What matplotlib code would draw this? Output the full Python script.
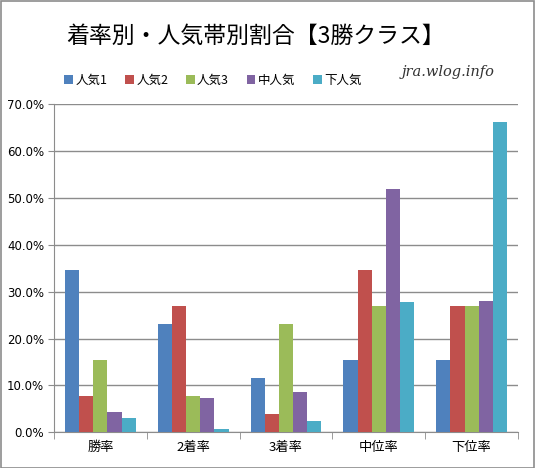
import matplotlib
matplotlib.use("Agg")
import matplotlib.pyplot as plt
from matplotlib.ticker import PercentFormatter
from matplotlib.patches import Rectangle
import numpy as np

plt.rcParams['font.family'] = ['Noto Sans CJK JP', 'DejaVu Sans']

categories = ['勝率', '2着率', '3着率', '中位率', '下位率']
series_names = ['人気1', '人気2', '人気3', '中人気', '下人気']
values = {
    '人気1': [34.6, 23.1, 11.5, 15.4, 15.4],
    '人気2': [7.7, 26.9, 3.8, 34.6, 26.9],
    '人気3': [15.4, 7.7, 23.1, 26.9, 26.9],
    '中人気': [4.3, 7.3, 8.6, 51.9, 28.0],
    '下人気': [3.0, 0.6, 2.4, 27.8, 66.2],
}
colors = ['#4F81BD', '#C0504D', '#9BBB59', '#8064A2', '#4BACC6']
yticks = [0, 10, 20, 30, 40, 50, 60, 70]

W, H = 535, 468
fig = plt.figure(figsize=(W / 100, H / 100), dpi=100)
fig.patches.append(Rectangle((0.5 / W, 0.5 / H), 1 - 1.5 / W, 1 - 1.5 / H,
                             transform=fig.transFigure, fill=False,
                             edgecolor='#8c8c8c', linewidth=1.2))

ax = fig.add_axes([54 / W, (H - 432.3) / H, 464 / W, (432.3 - 104.3) / H])

x = np.arange(len(categories))
bw = 0.153
for i, (name, col) in enumerate(zip(series_names, colors)):
    ax.bar(x + (i - 2) * bw, values[name], width=bw, color=col, label=name,
           zorder=3)

ax.set_xlim(-0.5, len(categories) - 0.5)
ax.set_ylim(0, 70)
ax.set_yticks(yticks)
ax.yaxis.set_major_formatter(PercentFormatter(decimals=1))
ax.grid(axis='y', color='#8c8c8c', linewidth=1, zorder=0)
ax.set_xticks(x)
ax.set_xticklabels(categories, fontsize=9.5)
ax.set_xticks(np.arange(-0.5, len(categories)), minor=True)
ax.tick_params(axis='x', which='major', length=0, pad=6)
ax.tick_params(axis='x', which='minor', length=5, color='#8c8c8c', direction='out')
ax.tick_params(axis='y', length=4, color='#8c8c8c', labelsize=8.5, pad=3)
for lab in ax.get_yticklabels():
    lab.set_family('DejaVu Sans')
for side in ['top', 'right']:
    ax.spines[side].set_visible(False)
ax.spines['left'].set_color('#8c8c8c')
ax.spines['bottom'].set_color('#8c8c8c')

fig.text(256 / W, 1 - 36 / H, '着率別・人気帯別割合【3勝クラス】', ha='center',
         va='center', fontsize=16.5)

leg = fig.legend(loc='center left', bbox_to_anchor=(53 / W, 1 - 80 / H), ncol=5,
                 frameon=False, fontsize=9, handlelength=0.7, handleheight=0.7,
                 handletextpad=0.2, columnspacing=1.4)

fig.text(448 / W, 1 - 72 / H, 'jra.wlog.info', ha='center', va='center',
         fontsize=10.5, style='italic', family='DejaVu Serif', color='#333333')

fig.savefig('out.png', dpi=100)
